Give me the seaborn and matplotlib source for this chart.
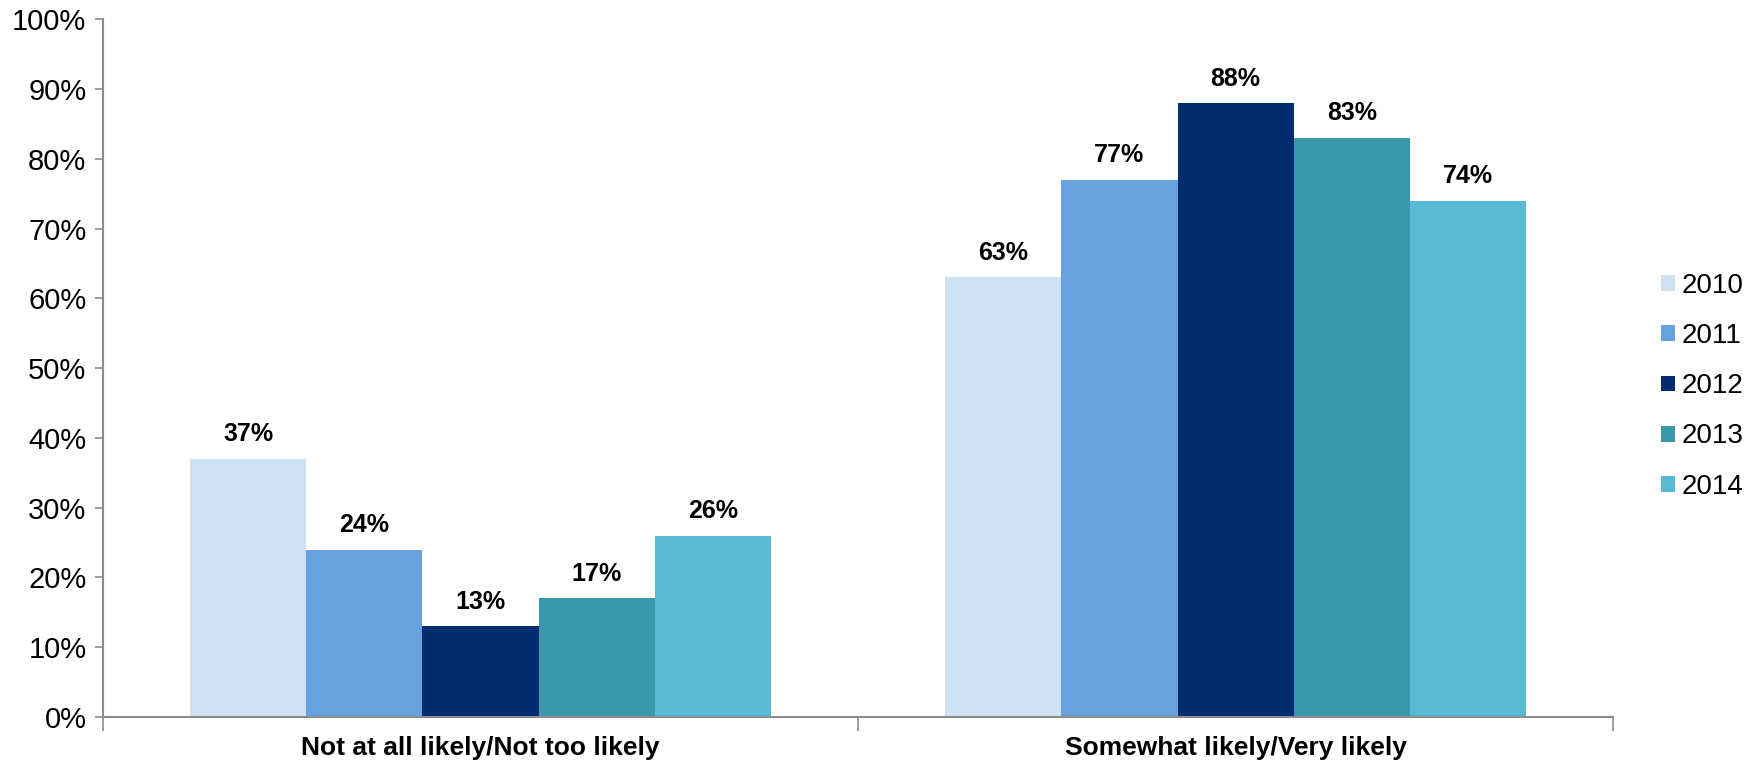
import matplotlib
matplotlib.use("Agg")
import matplotlib.pyplot as plt
import seaborn as sns
import pandas as pd
from matplotlib.patches import Patch
from matplotlib.ticker import FuncFormatter, FixedLocator

categories = ["Not at all likely/Not too likely", "Somewhat likely/Very likely"]
years = ["2010", "2011", "2012", "2013", "2014"]
values_2010 = [37, 63]
values_2011 = [24, 77]
values_2012 = [13, 88]
values_2013 = [17, 83]
values_2014 = [26, 74]
colors = ["#D0E1F3", "#65A2DE", "#002D70", "#3B97AB", "#59B9D0"]

series = [values_2010, values_2011, values_2012, values_2013, values_2014]
rows = []
for y, vals in zip(years, series):
    for c, v in zip(categories, vals):
        rows.append({"category": c, "year": y, "value": v})
df = pd.DataFrame(rows)

sns.set_style("white")
plt.rcParams["font.family"] = ["Liberation Sans", "DejaVu Sans"]
plt.rcParams["text.color"] = "black"
plt.rcParams["xtick.labelcolor"] = "black"
plt.rcParams["ytick.labelcolor"] = "black"

fig = plt.figure(figsize=(17.56, 7.65), dpi=100)
ax = fig.add_axes([0.0587, 0.0627, 0.86, 0.912])

sns.barplot(data=df, x="category", y="value", hue="year", palette=colors,
            width=0.77, linewidth=0, saturation=1, ax=ax, legend=False)

for cont in ax.containers:
    ax.bar_label(cont, labels=[f"{int(round(b.get_height()))}%" for b in cont],
                 padding=9, fontsize=18, fontweight="bold", color="black")

ax.set_ylim(0, 100)
ax.set_xlim(-0.5, 1.5)
ax.yaxis.set_major_locator(FixedLocator(range(0, 101, 10)))
ax.yaxis.set_major_formatter(FuncFormatter(lambda v, p: f"{int(v)}%"))
ax.tick_params(axis="y", labelsize=21, length=6, width=1.2, color="#8C8C8C",
               labelcolor="black", left=True, direction="out", pad=6)
ax.set_xticks([0, 1])
ax.set_xticklabels(categories, fontsize=19, fontweight="bold", color="black")
ax.tick_params(axis="x", length=0, pad=14)
ax.set_xticks([-0.5, 0.5, 1.5], minor=True)
ax.tick_params(axis="x", which="minor", length=10, width=1.2, color="#8C8C8C", bottom=True)
ax.set_xlabel("")
ax.set_ylabel("")

for s in ["top", "right"]:
    ax.spines[s].set_visible(False)
for s in ["left", "bottom"]:
    ax.spines[s].set_color("#8C8C8C")
    ax.spines[s].set_linewidth(1.5)

handles = [Patch(facecolor=c, edgecolor="none", label=y) for c, y in zip(colors, years)]
fig.legend(handles=handles, loc="center left", bbox_to_anchor=(0.946, 0.495),
           frameon=False, fontsize=20, handlelength=0.5, handleheight=0.5,
           handletextpad=0.25, labelspacing=0.87, borderaxespad=0, borderpad=0,
           labelcolor="black")

fig.savefig("out.png", dpi=100)
